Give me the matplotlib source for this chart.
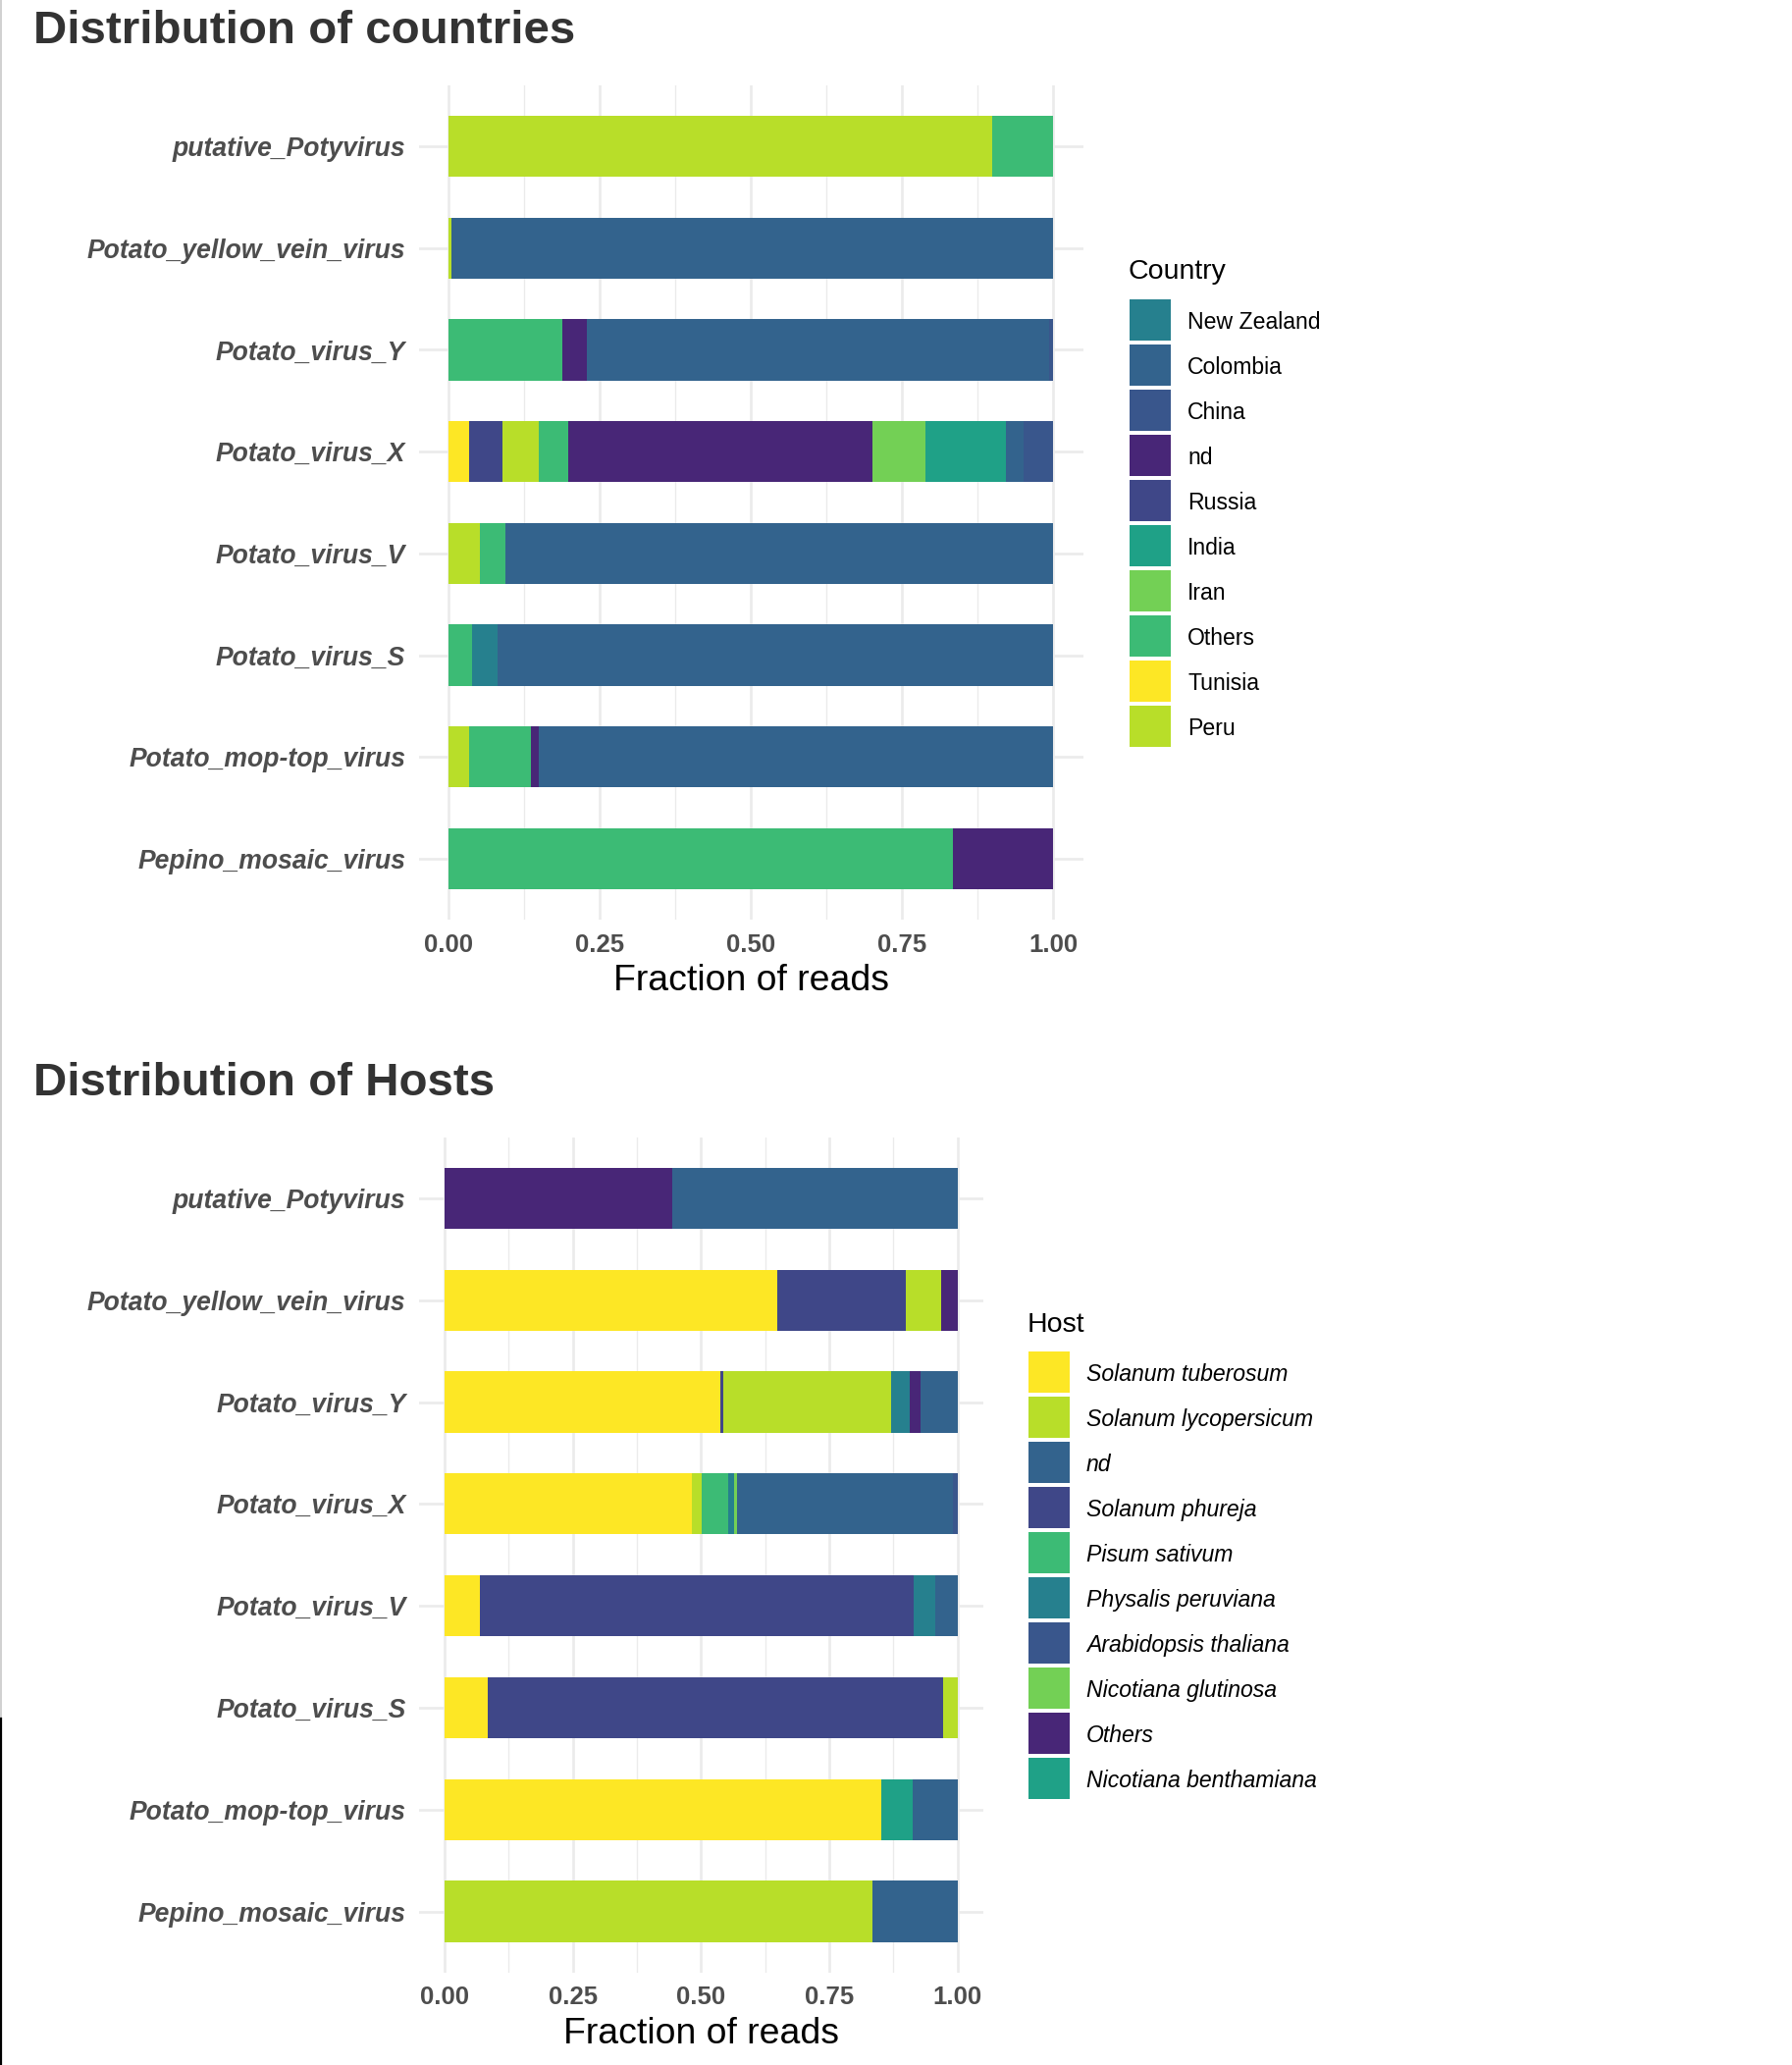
import matplotlib
matplotlib.use("Agg")
import matplotlib.pyplot as plt
from matplotlib.patches import Rectangle
from matplotlib.lines import Line2D

plt.rcParams['font.family'] = ['Liberation Sans', 'DejaVu Sans']

# ---------------- data ----------------
viruses = ["Pepino_mosaic_virus", "Potato_mop-top_virus", "Potato_virus_S", "Potato_virus_V",
           "Potato_virus_X", "Potato_virus_Y", "Potato_yellow_vein_virus", "putative_Potyvirus"]

countries = ["New Zealand", "Colombia", "China", "nd", "Russia", "India", "Iran", "Others", "Tunisia", "Peru"]
country_colors = ["#26808e", "#33638d", "#39568c", "#482677", "#3f4788", "#1fa187", "#73d055",
                  "#3cbb75", "#fde725", "#b8de29"]

country_labels = {
    "putative_Potyvirus": ["Peru", "Others"],
    "Potato_yellow_vein_virus": ["Peru", "Colombia"],
    "Potato_virus_Y": ["Others", "nd", "Colombia", "China"],
    "Potato_virus_X": ["Tunisia", "Russia", "Peru", "Others", "nd", "Iran", "India", "Colombia", "China"],
    "Potato_virus_V": ["Peru", "Others", "Colombia"],
    "Potato_virus_S": ["Others", "New Zealand", "Colombia"],
    "Potato_mop-top_virus": ["Peru", "Others", "nd", "Colombia"],
    "Pepino_mosaic_virus": ["Others", "nd"],
}
country_values = {
    "putative_Potyvirus": [0.899, 0.101],
    "Potato_yellow_vein_virus": [0.004, 0.996],
    "Potato_virus_Y": [0.187, 0.041, 0.766, 0.006],
    "Potato_virus_X": [0.033, 0.055, 0.061, 0.049, 0.503, 0.088, 0.133, 0.030, 0.048],
    "Potato_virus_V": [0.051, 0.043, 0.906],
    "Potato_virus_S": [0.038, 0.043, 0.919],
    "Potato_mop-top_virus": [0.033, 0.102, 0.013, 0.852],
    "Pepino_mosaic_virus": [0.834, 0.166],
}

hosts = ["Solanum tuberosum", "Solanum lycopersicum", "nd", "Solanum phureja", "Pisum sativum",
         "Physalis peruviana", "Arabidopsis thaliana", "Nicotiana glutinosa", "Others",
         "Nicotiana benthamiana"]
host_colors = ["#fde725", "#b8de29", "#33638d", "#3f4788", "#3cbb75", "#26808e", "#39568c",
               "#73d055", "#482677", "#1fa187"]

host_labels = {
    "putative_Potyvirus": ["Others", "nd"],
    "Potato_yellow_vein_virus": ["Solanum tuberosum", "Solanum phureja", "Solanum lycopersicum", "Others"],
    "Potato_virus_Y": ["Solanum tuberosum", "Solanum phureja", "Solanum lycopersicum",
                       "Physalis peruviana", "Others", "nd"],
    "Potato_virus_X": ["Solanum tuberosum", "Solanum lycopersicum", "Pisum sativum", "Physalis peruviana",
                       "Nicotiana glutinosa", "nd", "Arabidopsis thaliana"],
    "Potato_virus_V": ["Solanum tuberosum", "Solanum phureja", "Physalis peruviana", "nd"],
    "Potato_virus_S": ["Solanum tuberosum", "Solanum phureja", "Solanum lycopersicum"],
    "Potato_mop-top_virus": ["Solanum tuberosum", "Nicotiana benthamiana", "nd"],
    "Pepino_mosaic_virus": ["Solanum lycopersicum", "nd"],
}
host_values = {
    "putative_Potyvirus": [0.444, 0.556],
    "Potato_yellow_vein_virus": [0.649, 0.251, 0.069, 0.031],
    "Potato_virus_Y": [0.5375, 0.0057, 0.327, 0.036, 0.021, 0.0728],
    "Potato_virus_X": [0.482, 0.019, 0.052, 0.011, 0.006, 0.422, 0.008],
    "Potato_virus_V": [0.069, 0.845, 0.042, 0.044],
    "Potato_virus_S": [0.084, 0.887, 0.029],
    "Potato_mop-top_virus": [0.851, 0.061, 0.088],
    "Pepino_mosaic_virus": [0.834, 0.166],
}

x_ticks = [0, 0.25, 0.5, 0.75, 1.0]
x_tick_labels = ["0.00", "0.25", "0.50", "0.75", "1.00"]

# ---------------- figure ----------------
W, H = 1826, 2104
fig = plt.figure(figsize=(W / 100, H / 100), dpi=100)
fig.patch.set_facecolor("white")


def rect(l, r, t, b):
    return [l / W, 1 - b / H, (r - l) / W, (b - t) / H]


GRID = "#ebebeb"


def draw_panel(ax, labels, values, cats, cols):
    cmap = dict(zip(cats, cols))
    for i, v in enumerate(viruses):
        left = 0.0
        for lab, val in zip(labels[v], values[v]):
            ax.barh(i + 1, val, left=left, height=0.6, color=cmap[lab], linewidth=0, zorder=3)
            left += val
    ax.set_xlim(-0.05, 1.05)
    ax.set_ylim(0.4, 8.6)
    ax.set_yticks(range(1, len(viruses) + 1))
    ax.set_yticklabels(viruses, fontsize=19.1, fontweight="bold", fontstyle="italic", color="#4d4d4d")
    ax.set_xticks(x_ticks)
    ax.set_xticks([0.125, 0.375, 0.625, 0.875], minor=True)
    ax.set_xticklabels(x_tick_labels, fontsize=18.5, fontweight="bold", color="#4d4d4d")
    ax.tick_params(axis="both", which="both", length=0)
    ax.tick_params(axis="y", pad=9.7)
    ax.tick_params(axis="x", pad=9.8)
    ax.grid(which="major", axis="both", color=GRID, linewidth=1.9, zorder=0)
    ax.grid(which="minor", axis="x", color=GRID, linewidth=1.0, zorder=0)
    ax.set_axisbelow(True)
    for s in ax.spines.values():
        s.set_visible(False)
    ax.set_xlabel("Fraction of reads", fontsize=26.9, color="black", labelpad=5.5)


ax1 = fig.add_axes(rect(426.7, 1103.8, 86.8, 937.2))
draw_panel(ax1, country_labels, country_values, countries, country_colors)
ax2 = fig.add_axes(rect(426.9, 1001.8, 1158.7, 2009.8))
draw_panel(ax2, host_labels, host_values, hosts, host_colors)

# titles
fig.text(33.5 / W, 1 - 44 / H, "Distribution of countries", fontsize=34.2, fontweight="bold",
         color="#333333", va="baseline", ha="left")
fig.text(33.5 / W, 1 - 1116 / H, "Distribution of Hosts", fontsize=34.2, fontweight="bold",
         color="#333333", va="baseline", ha="left")


def draw_legend(title, title_x, title_base, key_x, first_cy, label_x, cats, cols, italic):
    fig.text(title_x / W, 1 - title_base / H, title, fontsize=20.5, color="black",
             va="baseline", ha="left")
    kw, kh, step = 42, 42, 46
    for i, (c, col) in enumerate(zip(cats, cols)):
        cy = first_cy + i * step
        fig.add_artist(Rectangle((key_x / W, 1 - (cy + kh / 2) / H), kw / W, kh / H,
                                 transform=fig.transFigure, facecolor=col, edgecolor="none"))
        fig.text(label_x / W, 1 - cy / H, c, fontsize=16.6, color="black", va="center_baseline",
                 ha="left", fontstyle="italic" if italic else "normal")


draw_legend("Country", 1149, 284, 1150.5, 326, 1210, countries, country_colors, False)
draw_legend("Host", 1046.7, 1356.7, 1048, 1398, 1107, hosts, host_colors, True)

# screenshot left edge lines
fig.add_artist(Line2D([0.5 / W, 0.5 / W], [1, 1 - 1751 / H], transform=fig.transFigure,
                      color="#c8c8c8", linewidth=1.2))
fig.add_artist(Line2D([1 / W, 1 / W], [1 - 1751 / H, 0], transform=fig.transFigure,
                      color="black", linewidth=1.6))

fig.savefig("out.png", dpi=100, facecolor="white")
